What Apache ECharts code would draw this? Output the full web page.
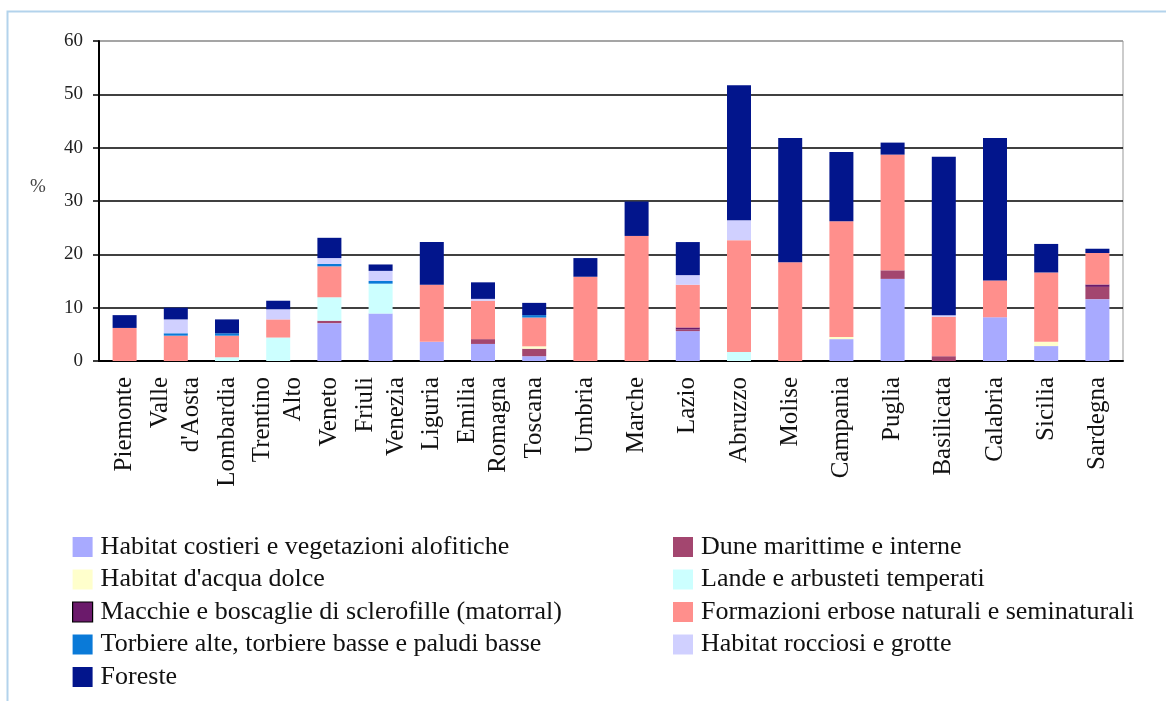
<!DOCTYPE html>
<html>
<head>
<meta charset="utf-8">
<script src="https://cdn.jsdelivr.net/npm/echarts@6/dist/echarts.min.js"></script>
<style>html,body{margin:0;padding:0;background:#fff}#c{width:1166px;height:701px}</style>
</head>
<body>
<div id="c"></div>
<script>
const regions = ["Piemonte","Valle\nd'Aosta","Lombardia","Trentino\nAlto","Veneto","Friuli\nVenezia","Liguria","Emilia\nRomagna","Toscana","Umbria","Marche","Lazio","Abruzzo","Molise","Campania","Puglia","Basilicata","Calabria","Sicilia","Sardegna"];
const yTicks = [0,10,20,30,40,50,60];
const seriesNames = [
  "Habitat costieri e vegetazioni alofitiche",
  "Dune marittime e interne",
  "Habitat d'acqua dolce",
  "Lande e arbusteti temperati",
  "Macchie e boscaglie di sclerofille (matorral)",
  "Formazioni erbose naturali e seminaturali",
  "Torbiere alte, torbiere basse e paludi basse",
  "Habitat rocciosi e grotte",
  "Foreste"
];
const costieri   = [0,0,0,0,7.1,8.9,3.6,3.2,0.9,0,0,5.6,0,0,4.1,15.4,0,8.2,2.8,11.6];
const dune       = [0,0,0,0,0.45,0,0,0.9,1.4,0,0,0.3,0,0,0,1.6,0.9,0,0,2.3];
const acquaDolce = [0,0,0,0,0,0,0,0,0.45,0,0,0,0,0,0.4,0,0,0,0.8,0];
const lande      = [0,0,0.7,4.4,4.4,5.6,0,0,0,0,0,0,1.7,0,0,0,0,0,0,0];
const macchie    = [0,0,0,0,0,0,0,0,0,0,0,0.4,0,0,0,0,0,0,0,0.45];
const formazioni = [6.2,4.75,4.05,3.4,5.8,0,10.7,7.2,5.4,15.8,23.45,8.0,20.95,18.5,21.7,21.7,7.4,6.9,13.0,5.9];
const torbiere   = [0,0.45,0.45,0,0.45,0.5,0,0,0.45,0,0,0,0,0,0,0,0,0,0,0];
const rocciosi   = [0,2.6,0,1.9,1.1,1.9,0,0.35,0,0,0,1.8,3.75,0,0,0,0.3,0,0,0];
const foreste    = [2.4,2.2,2.6,1.6,3.8,1.2,8.0,3.1,2.3,3.5,6.45,6.2,25.3,23.3,13.0,2.25,29.7,26.7,5.35,0.8];

const allData = [costieri,dune,acquaDolce,lande,macchie,formazioni,torbiere,rocciosi,foreste];
const colors = ['#a8aaff','#a3466f','#ffffcc','#ccffff','#6b1a6b','#ff8f8c','#0a7ad8','#d0d0ff','#02158c'];

const serif = "'Liberation Serif','DejaVu Serif',serif";
const chart = echarts.init(document.getElementById('c'));

const series = seriesNames.map((n,i)=>({
  name:n, type:'bar', stack:'t', data:allData[i], barWidth:24,
  itemStyle:{color:colors[i]}, emphasis:{disabled:true}
}));

const legendItem = (i)=>({name:seriesNames[i], itemStyle: i===4 ? {borderColor:'#000',borderWidth:1.2} : {}});

chart.setOption({
  animation:false,
  color:colors,
  grid:{left:99,right:43,top:41,bottom:340,show:true,borderColor:'#999',borderWidth:1},
  xAxis:{type:'category',data:regions,
    axisLine:{lineStyle:{color:'#000',width:2}},
    axisTick:{show:false},
    axisLabel:{rotate:90,interval:0,margin:16,fontFamily:serif,fontSize:25,lineHeight:31,color:'#111'}},
  yAxis:{type:'value',min:0,max:60,interval:10,
    axisLine:{show:true,lineStyle:{color:'#000',width:2}},
    axisTick:{show:true,length:6,lineStyle:{color:'#000',width:1.5}},
    axisLabel:{fontFamily:serif,fontSize:19,color:'#222',margin:16,
      formatter:(v)=> yTicks.indexOf(v)>=0 ? String(v) : ''},
    splitLine:{lineStyle:{color:['#000','#000','#000','#000','#000','#000','#999'],width:1.5}}},
  legend:[
    {orient:'vertical',left:72,top:534,padding:0,itemWidth:20,itemHeight:20,itemGap:6.5,
     icon:'rect',textStyle:{fontFamily:serif,fontSize:26,lineHeight:26,color:'#111',padding:[0,0,0,3]},
     data:[0,2,4,6,8].map(legendItem),selectedMode:false},
    {orient:'vertical',left:673,top:534,padding:0,itemWidth:20,itemHeight:20,itemGap:6.5,
     icon:'rect',textStyle:{fontFamily:serif,fontSize:26,lineHeight:26,color:'#111',padding:[0,0,0,3]},
     data:[1,3,5,7].map(legendItem),selectedMode:false}
  ],
  graphic:[
    {type:'rect',shape:{x:7.5,y:11.5,width:1200,height:720},style:{fill:'none',stroke:'#b3d3ec',lineWidth:2},silent:true},
    {type:'text',left:30,top:178,style:{text:'%',font:"19px 'Liberation Serif', serif",fill:'#444'},silent:true}
  ],
  series:series
});
</script>
</body>
</html>
